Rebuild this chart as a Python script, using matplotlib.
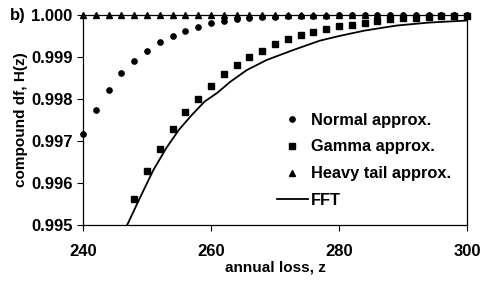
import matplotlib
matplotlib.use("Agg")
import matplotlib.pyplot as plt

plt.rcParams["font.family"] = ["Liberation Sans", "DejaVu Sans"]
plt.rcParams["font.weight"] = "bold"

# ── data ─────────────────────────────────────────────────────────────────────
z_pts = list(range(240, 301, 2))

normal = [0.99717, 0.99774, 0.99822, 0.99861, 0.99891, 0.99915, 0.99936,
          0.99951, 0.99963, 0.99972, 0.99980, 0.99986, 0.99990, 0.99992,
          0.99995, 0.99996, 0.99997, 0.99997, 0.99998, 0.99998, 0.99999,
          0.99999, 0.99999, 0.99999, 1.00000, 1.00000, 1.00000, 1.00000,
          1.00000, 1.00000, 1.00000]

gamma_z = list(range(248, 301, 2))
gamma = [0.99563, 0.99628, 0.99681, 0.99728, 0.99769, 0.99801, 0.99831,
         0.99860, 0.99881, 0.99899, 0.99915, 0.99930, 0.99942, 0.99952,
         0.99960, 0.99966, 0.99973, 0.99977, 0.99981, 0.99986, 0.99990,
         0.99992, 0.99994, 0.99996, 0.99997, 0.99998, 0.99998]

heavy = [1.0] * len(z_pts)

fft_z = [246.9, 249, 251, 253, 255, 257, 259, 261, 263, 265.6, 268.7,
         272.9, 277, 280, 284, 289, 294, 300]
fft = [0.99500, 0.99568, 0.99631, 0.99683, 0.99727, 0.99762, 0.99794,
       0.99815, 0.99841, 0.99869, 0.99893, 0.99917, 0.99939, 0.99950,
       0.99963, 0.99975, 0.99982, 0.99987]

x_ticks = [240, 260, 280, 300]
y_ticks = [0.995, 0.996, 0.997, 0.998, 0.999, 1.000]

# ── plot ─────────────────────────────────────────────────────────────────────
fig = plt.figure(figsize=(5.0, 2.84), dpi=100)
ax = fig.add_axes([0.166, 0.2077, 0.768, 0.7393])

ax.plot(z_pts, normal, "o", color="black", ms=3.8, ls="none",
        label="Normal approx.", clip_on=False, zorder=3)
ax.plot(gamma_z, gamma, "s", color="black", ms=4.2, ls="none",
        label="Gamma approx.", clip_on=False, zorder=3)
ax.plot(z_pts, heavy, "^", color="black", ms=4.2, ls="none",
        label="Heavy tail approx.", clip_on=False, zorder=3)
ax.plot(fft_z, fft, "-", color="black", lw=1.3, label="FFT", zorder=2)

ax.set_xlim(240, 300)
ax.set_ylim(0.995, 1.000)
ax.set_xticks(x_ticks)
ax.set_yticks(y_ticks)
ax.set_yticklabels([f"{v:.3f}" for v in y_ticks])
ax.tick_params(direction="out", length=4, width=0.8, labelsize=12,
               top=False, right=False)
ax.tick_params(axis="x", pad=10)
for s in ax.spines.values():
    s.set_linewidth(0.9)

ax.set_xlabel("annual loss, z", fontsize=11, fontweight="bold", labelpad=1)
ax.set_ylabel("compound df, H(z)", fontsize=11, fontweight="bold", labelpad=2)

fig.text(0.02, 0.947, "b)", fontsize=12, fontweight="bold", va="center")

ax.legend(loc="upper left", bbox_to_anchor=(0.505, 0.535), frameon=False,
          handlelength=1.9, handletextpad=0.15,
          labelspacing=0.72, borderpad=0, borderaxespad=0,
          prop={"weight": "bold", "size": 11.8})

fig.savefig("out.png", dpi=100)
